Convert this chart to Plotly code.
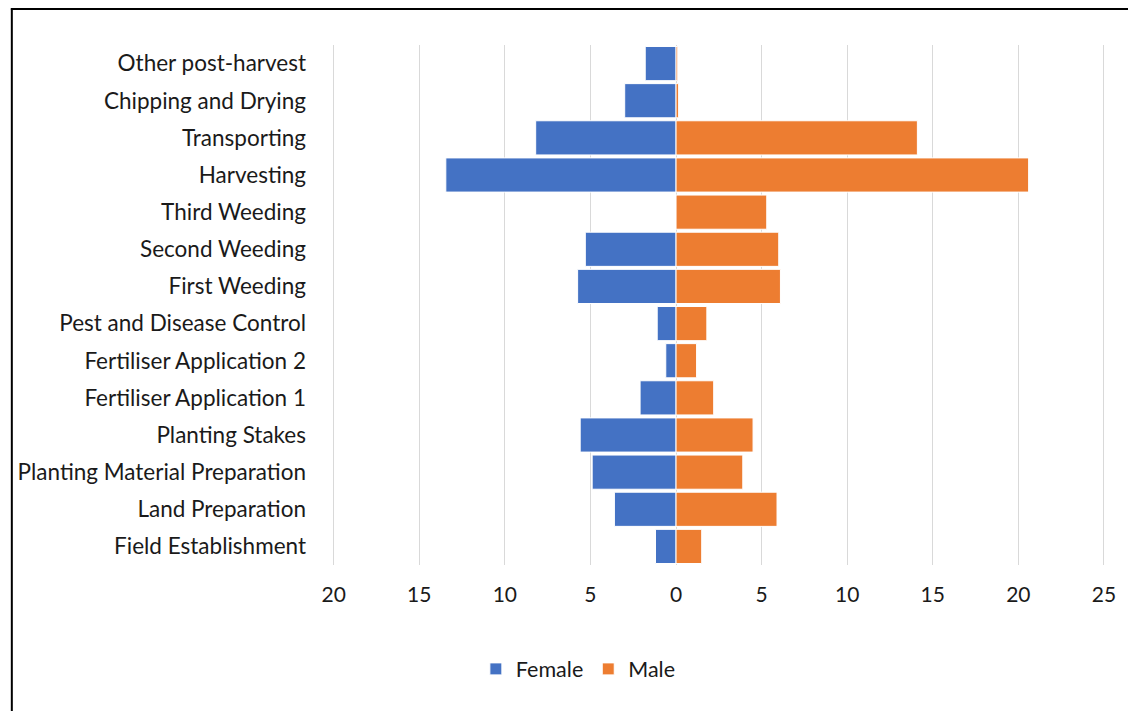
import plotly.graph_objects as go

# Farm activities, listed bottom to top as they appear on the category axis
activities = [
    "Field Establishment",
    "Land Preparation",
    "Planting Material Preparation",
    "Planting Stakes",
    "Fertiliser Application 1",
    "Fertiliser Application 2",
    "Pest and Disease Control",
    "First Weeding",
    "Second Weeding",
    "Third Weeding",
    "Harvesting",
    "Transporting",
    "Chipping and Drying",
    "Other post-harvest",
]

female = [1.2, 3.6, 4.9, 5.6, 2.1, 0.6, 1.1, 5.75, 5.3, 0.0, 13.45, 8.2, 3.0, 1.8]
male = [1.5, 5.9, 3.9, 4.5, 2.2, 1.2, 1.8, 6.1, 6.0, 5.3, 20.6, 14.1, 0.15, 0.1]

tick_values = [-20, -15, -10, -5, 0, 5, 10, 15, 20, 25]
tick_labels = ["20", "15", "10", "5", "0", "5", "10", "15", "20", "25"]

BLUE = "#4472C4"
ORANGE = "#ED7D31"
FONT = "Lato, Carlito, Calibri, sans-serif"

fig = go.Figure()
fig.add_trace(go.Bar(
    y=activities, x=[-v for v in female], orientation="h", name="Female",
    marker=dict(color=BLUE, line=dict(color="white", width=1)),
))
fig.add_trace(go.Bar(
    y=activities, x=male, orientation="h", name="Male",
    marker=dict(color=ORANGE, line=dict(color="white", width=1)),
))

W, H = 1128, 711
L, R, T, B = 332, 20, 44.5, 146
pw, ph = W - L - R, H - T - B


def px_x(p):
    return (p - L) / pw


def px_y(q):
    return (H - B - q) / ph


fig.update_layout(
    width=W, height=H,
    margin=dict(l=L, r=R, t=T, b=B),
    paper_bgcolor="white", plot_bgcolor="white",
    barmode="overlay", bargap=0.08,
    font=dict(family=FONT, size=22, color="#1a1a1a"),
    xaxis=dict(
        range=[-20.1, 25.12], tickvals=tick_values, ticktext=tick_labels,
        showgrid=True, gridcolor="#d9d9d9", gridwidth=1.3,
        zeroline=False, showline=False, ticks="",
        ticklabelstandoff=15, tickfont=dict(size=21),
    ),
    yaxis=dict(
        categoryorder="array", categoryarray=activities,
        showgrid=False, zeroline=False, showline=False, ticks="",
        ticklabelstandoff=25, tickfont=dict(size=22.5),
    ),
    legend=dict(
        orientation="h", x=px_x(579), y=px_y(669),
        xanchor="center", yanchor="middle",
        font=dict(size=21.5), traceorder="normal",
        itemwidth=30, tracegroupgap=0,
    ),
    showlegend=True,
    shapes=[
        dict(type="line", xref="paper", yref="paper",
             x0=px_x(11), x1=px_x(11), y0=px_y(8), y1=px_y(720),
             line=dict(color="black", width=2)),
        dict(type="line", xref="paper", yref="paper",
             x0=px_x(10), x1=px_x(1140), y0=px_y(8.5), y1=px_y(8.5),
             line=dict(color="black", width=2)),
    ],
)

fig.write_html("out.html")
